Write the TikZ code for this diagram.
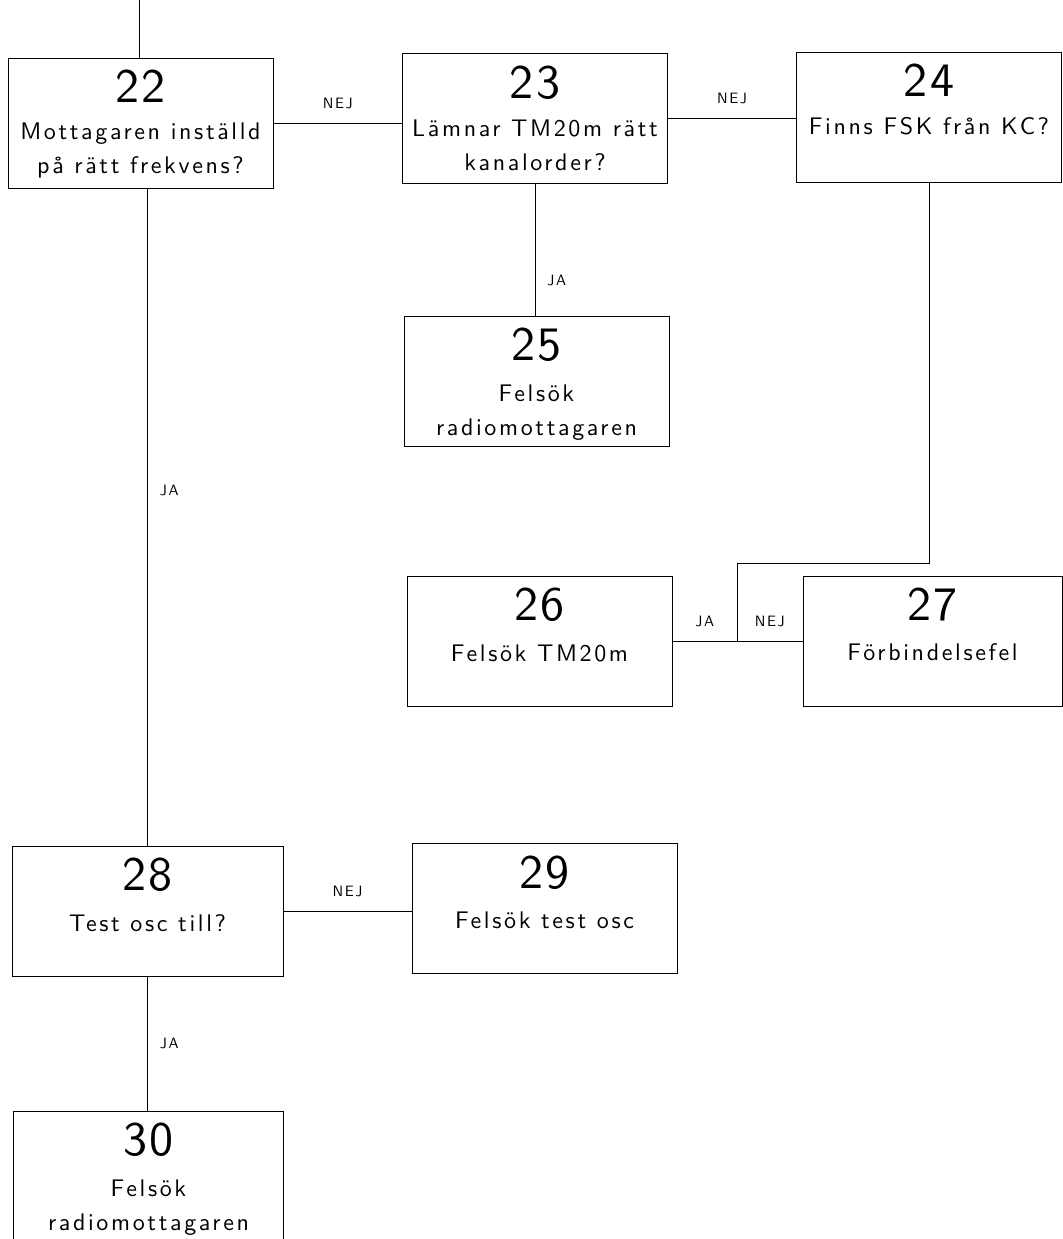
\documentclass[tikz,border=0pt]{standalone}
\usepackage{fontspec}
\setmainfont{lmsans10-regular.otf}[LetterSpace=6]
\newfontfamily\widefont{lmsans10-regular.otf}[LetterSpace=11]
\usetikzlibrary{positioning}

\begin{document}
\begin{tikzpicture}[
  x=0.5pt, y=-0.5pt,
  box/.style={rectangle, draw, line width=0.45pt, minimum width=132.5pt, minimum height=65pt, inner sep=0pt},
  num/.style={font=\fontsize{24}{24}\selectfont, inner sep=0pt},
  txt/.style={font=\widefont\fontsize{12}{17}\selectfont, align=center, inner sep=0pt},
  lbl/.style={font=\widefont\fontsize{7.5}{8}\selectfont, inner sep=0pt},
  link/.style={line width=0.45pt}
]
\useasboundingbox (0,0) rectangle (1063,1239);

% boxes
\node[box] (b22) at (140.5,123) {};
\node[box] (b23) at (535,118.5) {};
\node[box] (b24) at (929,117) {};
\node[box] (b25) at (536.5,381) {};
\node[box] (b26) at (539.5,641) {};
\node[box, minimum width=129.5pt] (b27) at (932.5,641) {};
\node[box, minimum width=135.5pt] (b28) at (147.5,911) {};
\node[box] (b29) at (544.5,908.5) {};
\node[box, minimum width=135pt] (b30) at (148.5,1176) {};

% numbers and texts
\node[num, below=6pt of b22.north] (n22) {22};
\node[txt, below=10pt of n22] (t22) {Mottagaren inställd\\på rätt frekvens?};
\node[num, below=6pt of b23.north] (n23) {23};
\node[txt, below=10pt of n23] (t23) {Lämnar TM20m rätt\\kanalorder?};
\node[num, below=6pt of b24.north] (n24) {24};
\node[txt, below=10pt of n24] (t24) {Finns FSK från KC?};
\node[num, below=6pt of b25.north] (n25) {25};
\node[txt, below=11pt of n25] (t25) {Felsök\\radiomottagaren};
\node[num, below=6pt of b26.north] (n26) {26};
\node[txt, below=11pt of n26] (t26) {Felsök TM20m};
\node[num, below=6pt of b27.north] (n27) {27};
\node[txt, below=11pt of n27] (t27) {Förbindelsefel};
\node[num, below=6pt of b28.north] (n28) {28};
\node[txt, below=11pt of n28] (t28) {Test osc till?};
\node[num, below=6pt of b29.north] (n29) {29};
\node[txt, below=11pt of n29] (t29) {Felsök test osc};
\node[num, below=6pt of b30.north] (n30) {30};
\node[txt, below=11pt of n30] (t30) {Felsök\\radiomottagaren};

% connectors
\coordinate (entry) at (139,0);
\coordinate (bend) at (737,563);
\coordinate (jn) at (737,641);
\draw[link] (entry) -- (entry |- b22.north);
\draw[link] (b22.east) -- (b22.east -| b23.west) node[lbl, midway, above=7pt] {NEJ};
\draw[link] (b23.east) -- (b23.east -| b24.west) node[lbl, midway, above=7pt] {NEJ};
\draw[link] (b23.south) -- (b23.south |- b25.north) node[lbl, pos=0.73, right=6pt] {JA};
\draw[link] (b24.south) |- (bend) -- (jn);
\draw[link] (b26.east) -- (jn) node[lbl, midway, above=7pt] {JA};
\draw[link] (jn) -- (b27.west) node[lbl, midway, above=7pt] {NEJ};
\draw[link] (b22.south -| b28.north) -- (b28.north) node[lbl, pos=0.46, right=6pt] {JA};
\draw[link] (b28.east) -- (b28.east -| b29.west) node[lbl, midway, above=7pt] {NEJ};
\draw[link] (b28.south) -- (b28.south |- b30.north) node[lbl, midway, right=6pt] {JA};
\end{tikzpicture}
\end{document}
